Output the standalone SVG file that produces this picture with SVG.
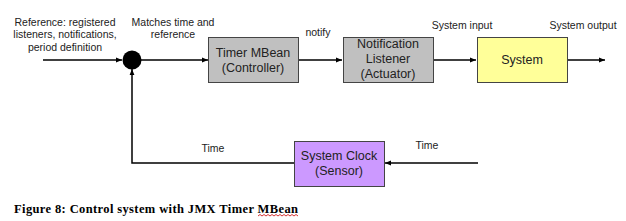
<svg xmlns="http://www.w3.org/2000/svg" width="626" height="221" viewBox="0 0 626 221">
<defs>
<style>
.lbl{font-family:"Liberation Sans",Arial,sans-serif;font-size:10.5px;fill:#222;text-anchor:middle}
.btxt{font-family:"Liberation Sans",Arial,sans-serif;font-size:12.5px;fill:#222;text-anchor:middle}
.box{stroke:#444;stroke-width:1}
.ln{stroke:#000;stroke-width:1.5;fill:none}
.cap{font-family:"Liberation Serif","Times New Roman",serif;font-size:12.5px;font-weight:bold;fill:#000}
</style>
<marker id="arr" viewBox="0 0 10 10" refX="10" refY="5" markerWidth="6" markerHeight="6" orient="auto" markerUnits="userSpaceOnUse">
<path d="M0,1 L10,5 L0,9 Z" fill="#000"/>
</marker>
</defs>
<rect width="626" height="221" fill="#fff"/>
<g id="connectors">
<line class="ln" x1="43" y1="60" x2="122" y2="60" marker-end="url(#arr)"/>
<line class="ln" x1="141" y1="60" x2="208" y2="60" marker-end="url(#arr)"/>
<line class="ln" x1="298" y1="60" x2="342" y2="60" marker-end="url(#arr)"/>
<line class="ln" x1="433" y1="60" x2="476" y2="60" marker-end="url(#arr)"/>
<line class="ln" x1="567" y1="60" x2="605" y2="60" marker-end="url(#arr)"/>
<line class="ln" x1="478" y1="163" x2="385" y2="163" marker-end="url(#arr)"/>
<polyline class="ln" points="294,163 132,163 132,69" marker-end="url(#arr)"/>
</g>
<g id="labels">
<text class="lbl" x="65" y="26">Reference: registered</text>
<text class="lbl" x="65" y="38">listeners, notifications,</text>
<text class="lbl" x="65" y="51">period definition</text>
<text class="lbl" x="173" y="26">Matches time and</text>
<text class="lbl" x="173" y="38">reference</text>
<text class="lbl" x="318" y="36">notify</text>
<text class="lbl" x="462" y="29">System input</text>
<text class="lbl" x="583" y="29">System output</text>
<text class="lbl" x="213" y="152">Time</text>
<text class="lbl" x="427" y="149">Time</text>
</g>
<g id="junction">
<circle cx="132" cy="60" r="9.5" fill="#000"/>
</g>
<g id="timer">
<rect class="box" x="208.5" y="37.5" width="90" height="45" fill="#C0C0C0"/>
<text class="btxt" x="253" y="57">Timer MBean</text>
<text class="btxt" x="253" y="72">(Controller)</text>
</g>
<g id="listener">
<rect class="box" x="343.5" y="37.5" width="90" height="45" fill="#C0C0C0"/>
<text class="btxt" x="388" y="48">Notification</text>
<text class="btxt" x="388" y="63">Listener</text>
<text class="btxt" x="388" y="78">(Actuator)</text>
</g>
<g id="system">
<rect class="box" x="477.5" y="37.5" width="90" height="45" fill="#FFFF99"/>
<text class="btxt" x="522" y="64">System</text>
</g>
<g id="clock">
<rect class="box" x="294.5" y="141.5" width="90" height="45" fill="#CC99FF"/>
<text class="btxt" x="339" y="160">System Clock</text>
<text class="btxt" x="339" y="175">(Sensor)</text>
</g>
<g id="caption">
<text class="cap" x="14" y="213" textLength="284" lengthAdjust="spacing">Figure 8: Control system with JMX Timer MBean</text>
<path d="M258,216 l2,-1.5 l2,1.5 l2,-1.5 l2,1.5 l2,-1.5 l2,1.5 l2,-1.5 l2,1.5 l2,-1.5 l2,1.5 l2,-1.5 l2,1.5 l2,-1.5 l2,1.5 l2,-1.5 l2,1.5 l2,-1.5 l2,1.5 l2,-1.5 l2,1.5" stroke="#c00" stroke-width="0.8" fill="none"/>
</g>
</svg>
